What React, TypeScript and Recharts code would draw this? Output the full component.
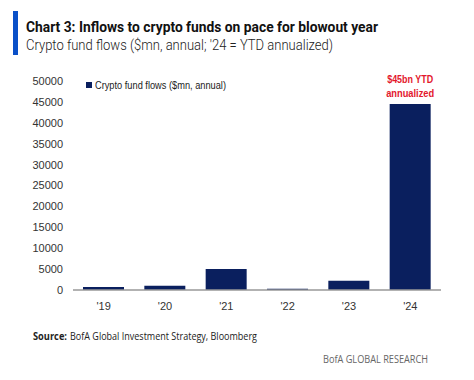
import React from 'react';
import { BarChart, Bar, XAxis, YAxis, Legend, LabelList } from 'recharts';

const years = ["'19", "'20", "'21", "'22", "'23", "'24"];
const flows = [700, 1000, 5000, 300, 2200, 44500];
const yTicks = [0, 5000, 10000, 15000, 20000, 25000, 30000, 35000, 40000, 45000, 50000];
const seriesName = 'Crypto fund flows ($mn, annual)';
const annotationLines = ['$45bn YTD', 'annualized'];

const data = years.map((y, i) => ({ year: y, value: flows[i] }));

const NAVY = '#0a1f5e';
const RED = '#e3182d';

const Annotation = (props: any) => {
  const { x, y, width, index } = props;
  if (index !== years.length - 1) return null;
  const cx = x + width / 2;
  return (
    <g>
      <text x={cx} y={y - 21} textAnchor="middle" fill={RED} fontSize={11} fontWeight="bold"
        fontFamily="Liberation Sans, Arial, sans-serif" textLength={46} lengthAdjust="spacingAndGlyphs">
        {annotationLines[0]}
      </text>
      <text x={cx} y={y - 7} textAnchor="middle" fill={RED} fontSize={11} fontWeight="bold"
        fontFamily="Liberation Sans, Arial, sans-serif" textLength={48} lengthAdjust="spacingAndGlyphs">
        {annotationLines[1]}
      </text>
    </g>
  );
};

const LegendContent = () => (
  <div style={{ display: 'flex', alignItems: 'center', height: 14, fontFamily: 'Liberation Sans, Arial, sans-serif' }}>
    <span style={{ width: 6, height: 6, background: NAVY, display: 'inline-block', marginRight: 3 }} />
    <svg width={145} height={14}>
      <text x={0} y={10.5} fontSize={10} fill="#222" textLength={131} lengthAdjust="spacingAndGlyphs"
        fontFamily="Liberation Sans, Arial, sans-serif">{seriesName}</text>
    </svg>
  </div>
);

export default function App() {
  return (
    <div style={{ position: 'fixed', left: 0, top: 0, width: 474, height: 380, background: '#fff' }}>
      <svg width={474} height={380} style={{ position: 'absolute', left: 0, top: 0 }}>
        <rect x={13} y={11} width={5} height={44} fill="#0a50c8" />
        <text x={26} y={32} fontSize={14.5} fontWeight="bold" fill="#111" fontFamily="Roboto, sans-serif"
          textLength={352} lengthAdjust="spacingAndGlyphs">
          Chart 3: Inflows to crypto funds on pace for blowout year
        </text>
        <text x={26} y={50} fontSize={14.5} fontWeight={300} fill="#222" fontFamily="Roboto, sans-serif"
          textLength={307} lengthAdjust="spacingAndGlyphs">
          Crypto fund flows ($mn, annual; '24 = YTD annualized)
        </text>
        <text x={33} y={340} fontSize={11} fontWeight="bold" fill="#222" fontFamily="Open Sans, sans-serif"
          textLength={34} lengthAdjust="spacingAndGlyphs">
          Source:
        </text>
        <text x={70} y={340} fontSize={11} fill="#222" fontFamily="Open Sans, sans-serif"
          textLength={187} lengthAdjust="spacingAndGlyphs">
          BofA Global Investment Strategy, Bloomberg
        </text>
        <text x={323} y={363} fontSize={10.5} fill="#666" fontFamily="Open Sans, sans-serif"
          textLength={105} lengthAdjust="spacingAndGlyphs">
          BofA GLOBAL RESEARCH
        </text>
      </svg>
      <div style={{ position: 'absolute', left: 0, top: 0 }}>
        <BarChart width={474} height={380} data={data}
          margin={{ top: 67, right: 33, bottom: 60, left: 13 }}>
          <XAxis dataKey="year" axisLine={{ stroke: '#999', strokeWidth: 1.5 }} tickLine={false}
            tickSize={6} tickMargin={6} height={30}
            tick={{ fontSize: 11, fill: '#333', fontFamily: 'Liberation Sans, Arial, sans-serif' }} />
          <YAxis type="number" domain={[0, 50000]} ticks={yTicks} axisLine={false} tickLine={false}
            width={60} tickSize={6} tickMargin={4} interval={0}
            tick={{ fontSize: 11, fill: '#333', fontFamily: 'Liberation Sans, Arial, sans-serif' }} />
          <Legend verticalAlign="top" align="left" height={14} content={<LegendContent />}
            wrapperStyle={{ position: 'absolute', top: 78, left: 86, width: 'auto' }} />
          <Bar dataKey="value" name={seriesName} fill={NAVY} barSize={41} isAnimationActive={false}>
            <LabelList dataKey="value" content={<Annotation />} />
          </Bar>
        </BarChart>
      </div>
    </div>
  );
}
